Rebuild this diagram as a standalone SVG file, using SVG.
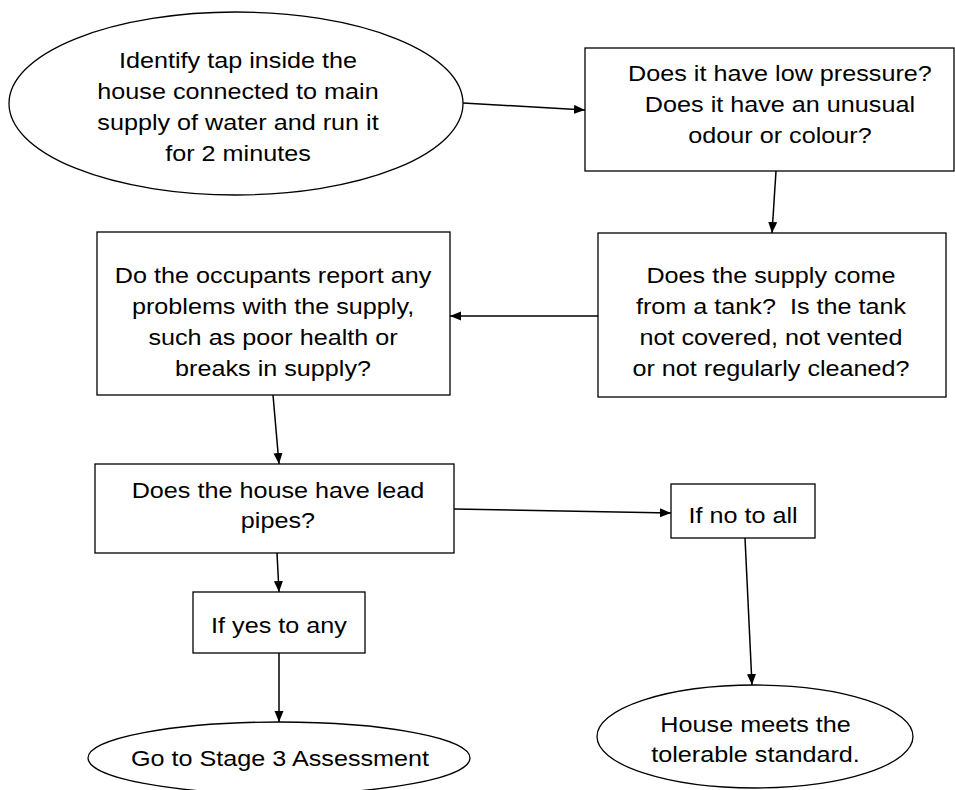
<svg xmlns="http://www.w3.org/2000/svg" width="955" height="790" viewBox="0 0 955 790">
  <style>
    .shape { fill: #ffffff; stroke: #000000; stroke-width: 1.3; }
    .edge { fill: none; stroke: #000000; stroke-width: 1.5; marker-end: url(#arrow); }
    .label { font-family: "Liberation Sans", Arial, sans-serif; font-size: 22.5px; fill: #000000; text-anchor: middle; }
  </style>
  <defs>
    <marker id="arrow" markerUnits="userSpaceOnUse" markerWidth="12" markerHeight="10" refX="11" refY="4.5" orient="auto">
      <path d="M0,0 L11,4.5 L0,9 z" fill="#000000"/>
    </marker>
  </defs>
  <rect width="955" height="790" fill="#ffffff"/>

  <!-- connectors -->
  <g id="connectors">
    <line class="edge" x1="463" y1="103" x2="585" y2="110"/>
    <line class="edge" x1="776" y1="171" x2="772" y2="233"/>
    <line class="edge" x1="598" y1="316" x2="450" y2="316"/>
    <line class="edge" x1="273" y1="395" x2="279" y2="464"/>
    <line class="edge" x1="454" y1="509" x2="671" y2="513"/>
    <line class="edge" x1="277" y1="553" x2="279" y2="592"/>
    <line class="edge" x1="279" y1="653" x2="279" y2="722"/>
    <line class="edge" x1="745" y1="538" x2="752" y2="685"/>
  </g>

  <!-- labels are widened 1.12x; x values are divided by 1.12 -->
  <g id="identify-tap">
    <ellipse class="shape" cx="236" cy="103.5" rx="227" ry="91.5"/>
    <g transform="scale(1.12 1)">
      <text class="label" x="212.5" y="68">Identify tap inside the</text>
      <text class="label" x="212.5" y="99">house connected to main</text>
      <text class="label" x="212.5" y="130">supply of water and run it</text>
      <text class="label" x="212.5" y="161">for 2 minutes</text>
    </g>
  </g>

  <g id="pressure">
    <rect class="shape" x="585" y="48" width="369" height="123"/>
    <g transform="scale(1.12 1)">
      <text class="label" x="696.4" y="81">Does it have low pressure?</text>
      <text class="label" x="696.4" y="112">Does it have an unusual</text>
      <text class="label" x="696.4" y="143">odour or colour?</text>
    </g>
  </g>

  <g id="tank">
    <rect class="shape" x="598" y="233" width="348" height="164"/>
    <g transform="scale(1.12 1)">
      <text class="label" x="688.4" y="283">Does the supply come</text>
      <text class="label" x="688.4" y="314">from a tank?&#160; Is the tank</text>
      <text class="label" x="688.4" y="345">not covered, not vented</text>
      <text class="label" x="688.4" y="376">or not regularly cleaned?</text>
    </g>
  </g>

  <g id="occupants">
    <rect class="shape" x="97" y="232" width="353" height="163"/>
    <g transform="scale(1.12 1)">
      <text class="label" x="243.8" y="283">Do the occupants report any</text>
      <text class="label" x="243.8" y="314">problems with the supply,</text>
      <text class="label" x="243.8" y="345">such as poor health or</text>
      <text class="label" x="243.8" y="376">breaks in supply?</text>
    </g>
  </g>

  <g id="lead-pipes">
    <rect class="shape" x="95" y="464" width="359" height="89"/>
    <g transform="scale(1.12 1)">
      <text class="label" x="248.2" y="498">Does the house have lead</text>
      <text class="label" x="248.2" y="528">pipes?</text>
    </g>
  </g>

  <g id="no-to-all">
    <rect class="shape" x="671" y="484" width="144" height="54"/>
    <g transform="scale(1.12 1)">
      <text class="label" x="663.4" y="523">If no to all</text>
    </g>
  </g>

  <g id="yes-to-any">
    <rect class="shape" x="193" y="592" width="172" height="61"/>
    <g transform="scale(1.12 1)">
      <text class="label" x="249.1" y="633">If yes to any</text>
    </g>
  </g>

  <g id="stage-3">
    <ellipse class="shape" cx="279" cy="758" rx="191" ry="36"/>
    <g transform="scale(1.12 1)">
      <text class="label" x="250" y="766">Go to Stage 3 Assessment</text>
    </g>
  </g>

  <g id="tolerable">
    <ellipse class="shape" cx="755" cy="736.5" rx="158" ry="51.5"/>
    <g transform="scale(1.12 1)">
      <text class="label" x="674.6" y="732">House meets the</text>
      <text class="label" x="674.6" y="762">tolerable standard.</text>
    </g>
  </g>
</svg>
